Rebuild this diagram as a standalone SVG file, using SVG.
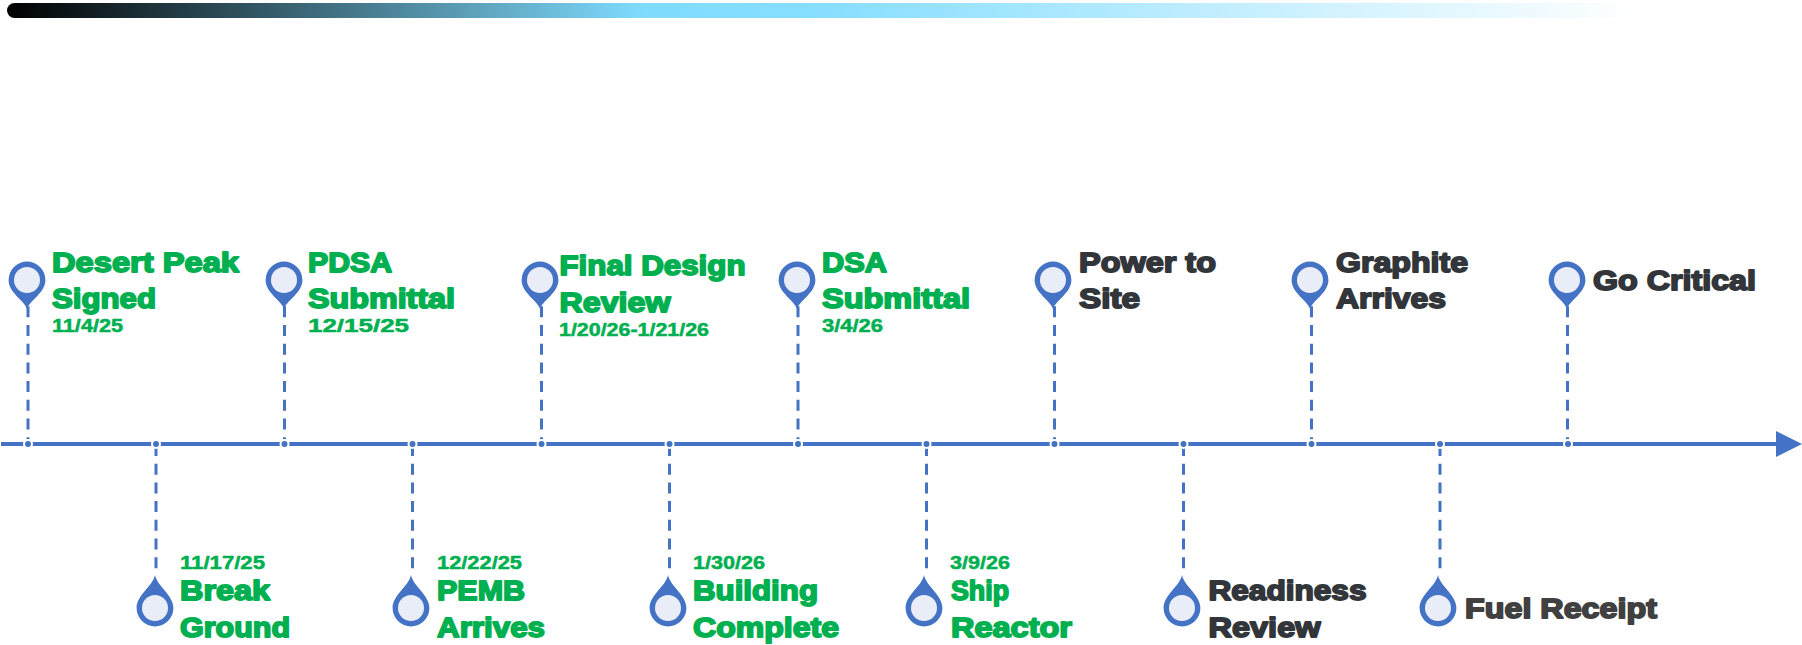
<svg xmlns="http://www.w3.org/2000/svg" width="1802" height="645" viewBox="0 0 1802 645">
<style>
text{font-family:"Liberation Sans",Arial,sans-serif;font-weight:700;stroke-linejoin:round}
.t{font-size:28.5px;stroke-width:1.8px}
.d{font-size:18.5px;stroke-width:.5px}
.g{fill:#00B050;stroke:#00B050}
.k{fill:#323539;stroke:#323539}
.f{fill:#404040;stroke:#404040}
.dash{stroke:#4472C4;stroke-width:3;stroke-dasharray:11 7.7;fill:none}
.axis{stroke:#4472C4;stroke-width:4;fill:none}
.dot{fill:#4472C4;stroke:#fff;stroke-width:2}
.pin{fill:#4472C4}
.face{fill:#E9EDF7}
</style>
<defs>
<linearGradient id="bar" x1="0" x2="1" y1="0" y2="0"><stop offset="0" stop-color="#000"/><stop offset=".39" stop-color="#7FDCFF"/><stop offset=".5" stop-color="#87DEFF"/><stop offset="1" stop-color="#fff"/></linearGradient>
<g id="pinUp"><path class="pin" d="M0 29C-2 21-18.400 13-18.400 0A18.400 18.400 0 1 1 18.400 0C18.400 13 2 21 0 29Z"/><circle class="face" r="13"/></g>
<g id="pinDown"><path class="pin" d="M0-33C-2-22-18.400-13-18.400 0A18.400 18.400 0 1 0 18.400 0C18.400-13 2-22 0-33Z"/><circle class="face" r="13"/></g>
</defs>
<rect x="7" y="3" width="1633" height="15" rx="7.5" fill="url(#bar)"/>
<g id="connectors">
<path class="axis" d="M1 444H1778"/>
<path d="M1776 431L1802 444L1776 457Z" fill="#4472C4"/>
<path class="dash" d="M28 306.300V441M284.500 306.300V441M541.500 306.300V441M798 306.300V441M1054.500 306.300V441M1311.500 306.300V441M1567.500 306.300V441"/>
<path class="dash" d="M156 445V570M412.500 445V570M669.500 445V570M926.500 445V570M1183.500 445V570M1440 445V570"/>
<g>
<circle class="dot" cx="28" cy="444" r="4"/><circle class="dot" cx="156" cy="444" r="4"/><circle class="dot" cx="284.500" cy="444" r="4"/><circle class="dot" cx="412.500" cy="444" r="4"/><circle class="dot" cx="541.500" cy="444" r="4"/><circle class="dot" cx="669.500" cy="444" r="4"/><circle class="dot" cx="798" cy="444" r="4"/><circle class="dot" cx="926.500" cy="444" r="4"/><circle class="dot" cx="1054.500" cy="444" r="4"/><circle class="dot" cx="1183.500" cy="444" r="4"/><circle class="dot" cx="1311.500" cy="444" r="4"/><circle class="dot" cx="1440" cy="444" r="4"/><circle class="dot" cx="1568" cy="444" r="4"/>
</g>
</g>
<g id="n1"><use href="#pinUp" x="27" y="280"/><text class="t g" x="52" y="272" textLength="187" lengthAdjust="spacingAndGlyphs">Desert Peak</text><text class="t g" x="52" y="308" textLength="104" lengthAdjust="spacingAndGlyphs">Signed</text><text class="d g" x="52" y="332" textLength="71" lengthAdjust="spacingAndGlyphs">11/4/25</text></g>
<g id="n2"><use href="#pinDown" x="155" y="608"/><text class="d g" x="180" y="568.500" textLength="85" lengthAdjust="spacingAndGlyphs">11/17/25</text><text class="t g" x="180" y="600" textLength="90" lengthAdjust="spacingAndGlyphs">Break</text><text class="t g" x="180" y="636.500" textLength="110" lengthAdjust="spacingAndGlyphs">Ground</text></g>
<g id="n3"><use href="#pinUp" x="284" y="280"/><text class="t g" x="308" y="272" textLength="84" lengthAdjust="spacingAndGlyphs">PDSA</text><text class="t g" x="308" y="308" textLength="147" lengthAdjust="spacingAndGlyphs">Submittal</text><text class="d g" x="308" y="332" textLength="101" lengthAdjust="spacingAndGlyphs">12/15/25</text></g>
<g id="n4"><use href="#pinDown" x="411" y="608"/><text class="d g" x="437" y="568.500" textLength="85" lengthAdjust="spacingAndGlyphs">12/22/25</text><text class="t g" x="437" y="600" textLength="88" lengthAdjust="spacingAndGlyphs">PEMB</text><text class="t g" x="437" y="636.500" textLength="108" lengthAdjust="spacingAndGlyphs">Arrives</text></g>
<g id="n5"><use href="#pinUp" x="540" y="280"/><text class="t g" x="559.500" y="275" textLength="186" lengthAdjust="spacingAndGlyphs">Final Design</text><text class="t g" x="559.500" y="312" textLength="111" lengthAdjust="spacingAndGlyphs">Review</text><text class="d g" x="559" y="335.500" textLength="150" lengthAdjust="spacingAndGlyphs">1/20/26-1/21/26</text></g>
<g id="n6"><use href="#pinDown" x="668" y="608"/><text class="d g" x="693" y="568.500" textLength="72" lengthAdjust="spacingAndGlyphs">1/30/26</text><text class="t g" x="693" y="600" textLength="125" lengthAdjust="spacingAndGlyphs">Building</text><text class="t g" x="693" y="636.500" textLength="146" lengthAdjust="spacingAndGlyphs">Complete</text></g>
<g id="n7"><use href="#pinUp" x="797" y="280"/><text class="t g" x="822" y="272" textLength="65" lengthAdjust="spacingAndGlyphs">DSA</text><text class="t g" x="822" y="308" textLength="148" lengthAdjust="spacingAndGlyphs">Submittal</text><text class="d g" x="822" y="332" textLength="61" lengthAdjust="spacingAndGlyphs">3/4/26</text></g>
<g id="n8"><use href="#pinDown" x="924" y="608"/><text class="d g" x="950" y="568.500" textLength="60" lengthAdjust="spacingAndGlyphs">3/9/26</text><text class="t g" x="951" y="600" textLength="58" lengthAdjust="spacingAndGlyphs">Ship</text><text class="t g" x="951" y="636.500" textLength="121" lengthAdjust="spacingAndGlyphs">Reactor</text></g>
<g id="n9"><use href="#pinUp" x="1053" y="280"/><text class="t k" x="1079" y="272" textLength="137" lengthAdjust="spacingAndGlyphs">Power to</text><text class="t k" x="1079" y="308" textLength="61" lengthAdjust="spacingAndGlyphs">Site</text></g>
<g id="n10"><use href="#pinDown" x="1182" y="608"/><text class="t k" x="1208.500" y="600" textLength="158" lengthAdjust="spacingAndGlyphs">Readiness</text><text class="t k" x="1208.500" y="636.500" textLength="112" lengthAdjust="spacingAndGlyphs">Review</text></g>
<g id="n11"><use href="#pinUp" x="1310" y="280"/><text class="t k" x="1336" y="272" textLength="132" lengthAdjust="spacingAndGlyphs">Graphite</text><text class="t k" x="1336" y="308" textLength="110" lengthAdjust="spacingAndGlyphs">Arrives</text></g>
<g id="n12"><use href="#pinDown" x="1438" y="608"/><text class="t f" x="1465" y="618" textLength="192" lengthAdjust="spacingAndGlyphs">Fuel Receipt</text></g>
<g id="n13"><use href="#pinUp" x="1567" y="280"/><text class="t k" x="1593" y="289.500" textLength="163" lengthAdjust="spacingAndGlyphs">Go Critical</text></g>
</svg>
